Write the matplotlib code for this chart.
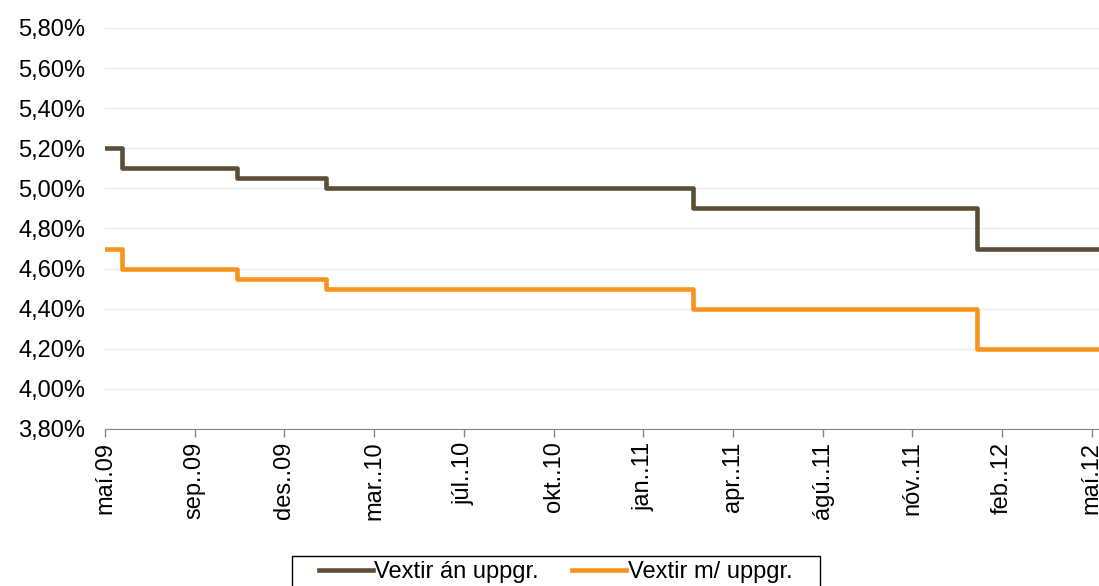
import numpy as np
import matplotlib
matplotlib.use('Agg')
import matplotlib.pyplot as plt
import matplotlib.dates as mdates
from matplotlib.ticker import FuncFormatter
from matplotlib.patches import Rectangle

plt.rcParams['font.family'] = ['Liberation Sans', 'DejaVu Sans']

# Vaxtabreytingar (dagsetningar) og vextir
dates = ['2009-05-01', '2009-05-20', '2009-09-25', '2010-01-02',
         '2011-02-13', '2011-12-25', '2012-05-09']
an_uppgr = [5.20, 5.10, 5.05, 5.00, 4.90, 4.70, 4.70]
m_uppgr = [4.70, 4.60, 4.55, 4.50, 4.40, 4.20, 4.20]

tick_labels = ['maí.09', 'sep..09', 'des..09', 'mar..10', 'júl..10', 'okt..10',
               'jan..11', 'apr..11', 'ágú..11', 'nóv..11', 'feb..12', 'maí.12']

x = mdates.datestr2num(dates)

fig = plt.figure(figsize=(10.99, 5.86), dpi=100)
ax = fig.add_axes([105 / 1099, 1 - 429 / 586, 994 / 1099, 401 / 586])

ax.step(x, an_uppgr, where='post', color='#5C4D36', lw=3.3, label='Vextir án uppgr.')
ax.step(x, m_uppgr, where='post', color='#F7941D', lw=3.3, label='Vextir m/ uppgr.')

ax.set_ylim(3.8, 5.8)
ax.set_yticks(np.arange(3.8, 5.81, 0.2))
ax.yaxis.set_major_formatter(FuncFormatter(lambda v, p: f'{v:.2f}%'.replace('.', ',')))
ax.grid(axis='y', color='#EBEBEB', lw=1)
ax.set_axisbelow(True)

start = mdates.datestr2num('2009-05-01')
end = mdates.datestr2num('2012-05-01')
ax.set_xlim(start, mdates.datestr2num('2012-05-09'))
ax.set_xticks(np.linspace(start, end, 12))
ax.set_xticklabels(tick_labels, rotation=90, va='top', ha='center')

for s in ['top', 'right', 'left']:
    ax.spines[s].set_visible(False)
ax.spines['bottom'].set_color('#868686')
ax.tick_params(axis='y', length=0, pad=14, labelsize=17)
ax.tick_params(axis='x', length=6, color='#868686', width=1, pad=3, labelsize=17)

# legend (frame drawn separately)
fig.legend(loc='center left', bbox_to_anchor=(319 / 1099, 1 - 572 / 586), ncol=2,
           fontsize=17, frameon=False, borderpad=0, borderaxespad=0,
           handlelength=2.3, handletextpad=0.05, columnspacing=1.4)
fig.patches.append(Rectangle((292 / 1099, -0.05), 528 / 1099, 0.05 + 30 / 586,
                             transform=fig.transFigure, fill=False,
                             edgecolor='black', lw=1))

fig.savefig('out.png', dpi=100)
